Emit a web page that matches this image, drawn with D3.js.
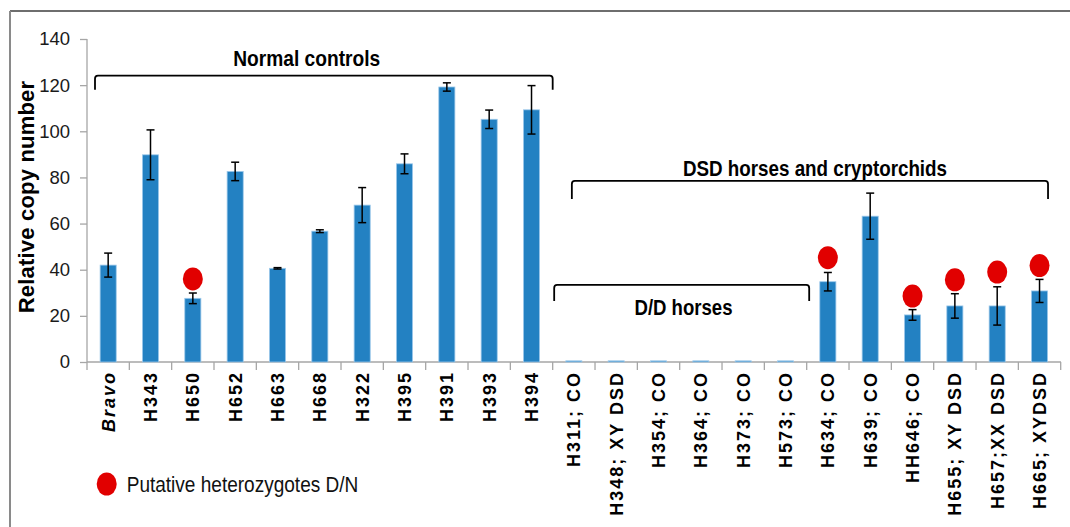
<!DOCTYPE html>
<html>
<head>
<meta charset="utf-8">
<script src="https://cdn.jsdelivr.net/npm/d3@7"></script>
<style>
  body { margin: 0; background: #fff; }
  svg { display: block; font-family: "Liberation Sans", Arial, sans-serif; }
</style>
</head>
<body>
<div id="chart"></div>
<script>
// chart data
var categories = ['Bravo', 'H343', 'H650', 'H652', 'H663', 'H668', 'H322', 'H395', 'H391', 'H393', 'H394',
    'H311; CO', 'H348; XY DSD', 'H354; CO', 'H364; CO', 'H373; CO', 'H573; CO',
    'H634; CO', 'H639; CO', 'HH646; CO', 'H655; XY DSD', 'H657;XX DSD', 'H665; XYDSD'];
var values = [42, 89.8, 27.6, 82.6, 40.6, 56.7, 68, 85.9, 119.2, 105.2, 109.3,
    0.5, 0.5, 0.5, 0.5, 0.5, 0.5,
    34.8, 63.2, 20.4, 24.3, 24.3, 30.8];
var errors = [5.2, 10.8, 2.3, 4, 0.3, 0.6, 7.6, 4.3, 1.8, 4, 10.5,
    0, 0, 0, 0, 0, 0,
    4, 10, 2.3, 5.3, 8.3, 5];
// putative heterozygotes (red dots) and the level they sit at
var hetCategories = ['H650', 'H634; CO', 'HH646; CO', 'H655; XY DSD', 'H657;XX DSD', 'H665; XYDSD'];
var hetLevels = [36, 45.2, 28.6, 35.6, 39, 41.8];
var yTicks = [0, 20, 40, 60, 80, 100, 120, 140];
// group brackets: first / last category, level of the bracket
var groupLabels = ['Normal controls', 'DSD horses and cryptorchids', 'D/D horses'];
var groupFrom = ['Bravo', 'H311; CO', 'H311; CO'];
var groupTo = ['H394', 'H665; XYDSD', 'H573; CO'];
var groupLevels = [124.1, 78.5, 33.4];
var legendLabel = 'Putative heterozygotes D/N';

var width = 1070,
    height = 527;

var svg = d3.select('#chart')
    .append('svg')
        .attr('width', width)
        .attr('height', height);

// frame (top + left edges only, like the source image)
svg.append('line')
    .attr('x1', 10).attr('x2', width).attr('y1', 11).attr('y2', 11)
    .attr('stroke', '#6e6e6e').attr('stroke-width', 2);
svg.append('line')
    .attr('x1', 10).attr('x2', 10).attr('y1', 11).attr('y2', height)
    .attr('stroke', '#8a8a8a').attr('stroke-width', 2);

var x = d3.scaleBand()
    .domain(categories)
    .range([87, 1060.7])
    .paddingInner(0.62)
    .paddingOuter(0.31);

var y = d3.scaleLinear()
    .domain([0, 140])
    .range([362, 39]);

var half = (x.step() - x.bandwidth()) / 2;
function cx(c) { return x(c) + x.bandwidth() / 2; }

// y axis
var yAxis = svg.append('g')
    .attr('transform', 'translate(87,0)')
    .call(d3.axisLeft(y).tickValues(yTicks).tickSize(7).tickPadding(10));
yAxis.selectAll('path, line').attr('stroke', '#a6a6a6').attr('stroke-width', 1.3);
yAxis.select('.domain').attr('d', 'M0,' + y(140) + 'V' + y(0));
yAxis.selectAll('text')
    .attr('font-size', '18.5px')
    .attr('fill', '#1a1a1a')
    .attr('font-family', '"Liberation Sans", Arial, sans-serif');

svg.append('text')
    .attr('transform', 'translate(34,197) rotate(-90)')
    .attr('text-anchor', 'middle')
    .attr('font-size', '22px')
    .attr('font-weight', 'bold')
    .attr('letter-spacing', '0.2px')
    .text('Relative copy number');

// x axis: line + ticks between categories
var xg = svg.append('g');
xg.append('line')
    .attr('x1', 87).attr('x2', 1061).attr('y1', y(0)).attr('y2', y(0))
    .attr('stroke', '#a6a6a6').attr('stroke-width', 1.3);
xg.selectAll('.tick')
    .data(categories.concat(['end']))
    .enter()
    .append('line')
        .attr('x1', function (d, i) { return i < categories.length ? x(d) - half : x(categories[i - 1]) + x.bandwidth() + half; })
        .attr('x2', function (d, i) { return i < categories.length ? x(d) - half : x(categories[i - 1]) + x.bandwidth() + half; })
        .attr('y1', y(0)).attr('y2', y(0) + 8)
        .attr('stroke', '#a6a6a6').attr('stroke-width', 1.3);

xg.selectAll('.xlab')
    .data(categories)
    .enter()
    .append('text')
        .attr('transform', function (d) { return 'translate(' + cx(d) + ',371) rotate(-90)'; })
        .attr('dy', '0.36em')
        .attr('text-anchor', 'end')
        .attr('font-size', '18px')
        .attr('font-weight', 'bold')
        .attr('letter-spacing', '2px')
        .style('font-style', function (d) { return d === 'Bravo' ? 'italic' : 'normal'; })
        .text(function (d) { return d; });

// bars
var rows = categories.map(function (c, i) { return {cat: c, v: values[i], e: errors[i]}; });
svg.append('g').selectAll('rect')
    .data(rows)
    .enter()
    .append('rect')
        .attr('x', function (d) { return x(d.cat); })
        .attr('y', function (d) { return y(d.v); })
        .attr('width', x.bandwidth())
        .attr('height', function (d) { return y(0) - y(d.v); })
        .attr('fill', '#2381c2')
        .attr('stroke', '#9cc8ea')
        .attr('stroke-width', 0.8);

// error bars
var eb = svg.append('g').selectAll('g')
    .data(rows.filter(function (d) { return d.e > 0; }))
    .enter()
    .append('g')
        .attr('stroke', '#000')
        .attr('stroke-width', 1.5);
eb.append('line')
    .attr('x1', function (d) { return cx(d.cat); })
    .attr('x2', function (d) { return cx(d.cat); })
    .attr('y1', function (d) { return y(d.v + d.e); })
    .attr('y2', function (d) { return y(d.v - d.e); });
eb.selectAll('.cap')
    .data(function (d) { return [[d.cat, d.v + d.e], [d.cat, d.v - d.e]]; })
    .enter()
    .append('line')
        .attr('x1', function (d) { return cx(d[0]) - 4; })
        .attr('x2', function (d) { return cx(d[0]) + 4; })
        .attr('y1', function (d) { return y(d[1]); })
        .attr('y2', function (d) { return y(d[1]); });

// heterozygote dots
svg.append('g').selectAll('ellipse')
    .data(hetCategories)
    .enter()
    .append('ellipse')
        .attr('cx', function (d) { return cx(d); })
        .attr('cy', function (d, i) { return y(hetLevels[i]); })
        .attr('rx', 10)
        .attr('ry', 11.5)
        .attr('fill', '#e10000');

// group brackets
var brackets = groupLabels.map(function (l, i) { return {label: l, from: groupFrom[i], to: groupTo[i], lvl: groupLevels[i]}; });
var bx = [
    [x(groupFrom[0]) - half + 8, x(groupTo[0]) + x.bandwidth() + half],
    [cx(groupFrom[1]) - 2, cx(groupTo[1]) + 8.5],
    [x(groupFrom[2]) - half + 1.5, x(groupTo[2]) + x.bandwidth() + half + 2.5]
];
var drops = [14, 18, 16];
var textY = [66, 176, 315];
var textW = [147, 264, 98];
var textX = [306.7, 815, 683.5];

var bg = svg.append('g').selectAll('g')
    .data(brackets)
    .enter()
    .append('g');
bg.append('path')
    .attr('d', function (d, i) {
        var x0 = bx[i][0], x1 = bx[i][1], yy = y(d.lvl), r = 3;
        return 'M' + x0 + ',' + (yy + drops[i]) + 'V' + (yy + r) + 'Q' + x0 + ',' + yy + ' ' + (x0 + r) + ',' + yy +
            'H' + (x1 - r) + 'Q' + x1 + ',' + yy + ' ' + x1 + ',' + (yy + r) + 'V' + (yy + drops[i]);
    })
    .attr('fill', 'none')
    .attr('stroke', '#000')
    .attr('stroke-width', 1.8);
bg.append('text')
    .attr('x', function (d, i) { return textX[i]; })
    .attr('y', function (d, i) { return textY[i]; })
    .attr('text-anchor', 'middle')
    .attr('font-size', '22px')
    .attr('font-weight', 'bold')
    .attr('textLength', function (d, i) { return textW[i]; })
    .attr('lengthAdjust', 'spacingAndGlyphs')
    .text(function (d) { return d.label; });

// legend
svg.append('ellipse')
    .attr('cx', 106.7).attr('cy', 484)
    .attr('rx', 10).attr('ry', 11.5)
    .attr('fill', '#e10000');
svg.append('text')
    .attr('x', 126.7).attr('y', 492)
    .attr('font-size', '22px')
    .attr('fill', '#111')
    .attr('textLength', 231.6)
    .attr('lengthAdjust', 'spacingAndGlyphs')
    .text(legendLabel);
</script>
</body>
</html>
